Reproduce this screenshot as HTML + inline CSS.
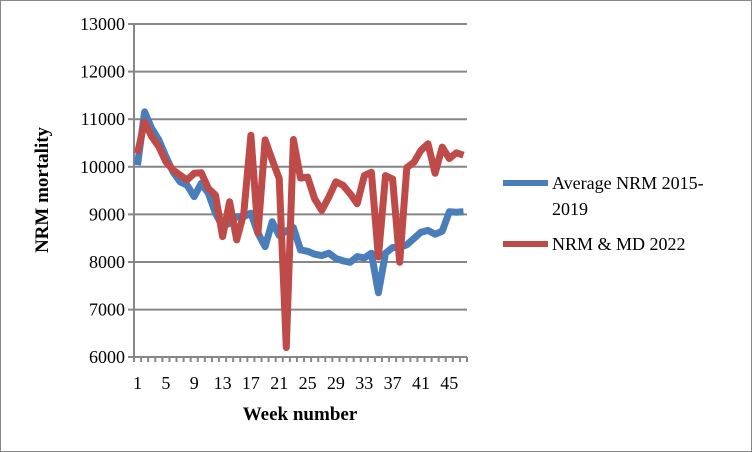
<!DOCTYPE html>
<html><head><meta charset="utf-8"><style>
html,body{margin:0;padding:0;background:#fff}
svg{display:block}
text{font-family:"Liberation Serif",serif;fill:#000}
</style></head><body>
<svg id="s" width="752" height="452" xmlns="http://www.w3.org/2000/svg">
<rect x="0.5" y="0.5" width="751" height="451" fill="#fff" stroke="#888"/>
<g stroke="#868686" stroke-width="2">
<line x1="134" y1="24" x2="467" y2="24"/>
<line x1="134" y1="71.6" x2="467" y2="71.6"/>
<line x1="134" y1="119.2" x2="467" y2="119.2"/>
<line x1="134" y1="166.8" x2="467" y2="166.8"/>
<line x1="134" y1="214.4" x2="467" y2="214.4"/>
<line x1="134" y1="262" x2="467" y2="262"/>
<line x1="134" y1="309.6" x2="467" y2="309.6"/>
<line x1="134" y1="357" x2="467" y2="357"/>
<line x1="134" y1="24" x2="134" y2="362"/>
<line x1="128" y1="24" x2="134" y2="24"/><line x1="128" y1="71.6" x2="134" y2="71.6"/><line x1="128" y1="119.2" x2="134" y2="119.2"/><line x1="128" y1="166.8" x2="134" y2="166.8"/><line x1="128" y1="214.4" x2="134" y2="214.4"/><line x1="128" y1="262" x2="134" y2="262"/><line x1="128" y1="309.6" x2="134" y2="309.6"/><line x1="128" y1="357" x2="134" y2="357"/>
</g>
<g id="ticks" stroke="#868686" stroke-width="2"></g>
<g font-size="18" text-anchor="end">
<text x="125" y="30">13000</text><text x="125" y="77.6">12000</text><text x="125" y="125.2">11000</text><text x="125" y="172.8">10000</text><text x="125" y="220.4">9000</text><text x="125" y="268">8000</text><text x="125" y="315.6">7000</text><text x="125" y="363">6000</text>
</g>
<g id="xl" font-size="18" text-anchor="middle"></g>
<polyline id="b" fill="none" stroke="#4a7ebb" stroke-width="7" stroke-linejoin="round"/>
<polyline id="r" fill="none" stroke="#be4b48" stroke-width="7" stroke-linejoin="round"/>
<text x="300" y="420" font-size="19" font-weight="bold" text-anchor="middle">Week number</text>
<text transform="translate(48,190) rotate(-90)" font-size="19" font-weight="bold" text-anchor="middle">NRM mortality</text>
<line x1="503" y1="183" x2="548" y2="183" stroke="#4a7ebb" stroke-width="6"/>
<text x="552" y="189" font-size="18">Average NRM 2015-</text>
<text x="552" y="215" font-size="18">2019</text>
<line x1="503" y1="244" x2="548" y2="244" stroke="#be4b48" stroke-width="6"/>
<text x="552" y="250" font-size="18">NRM &amp; MD 2022</text>
</svg>
<script>
var B=[10030,11150,10800,10560,10210,9890,9680,9610,9370,9650,9440,9020,8740,8810,8950,8950,9020,8600,8320,8840,8550,8650,8720,8250,8220,8160,8130,8180,8070,8020,7990,8110,8080,8180,7350,8180,8300,8300,8360,8490,8620,8660,8580,8640,9050,9040,9050];
var R=[10280,10940,10630,10420,10100,9930,9820,9720,9860,9870,9540,9400,8530,9260,8460,9020,10660,8600,10560,10140,9750,6200,10570,9760,9780,9320,9080,9360,9680,9610,9430,9220,9810,9880,8100,9810,9740,7990,9980,10090,10340,10480,9860,10410,10170,10290,10240];
var sp=333/47;
function X(i){return 134+sp*(i+0.5);}
function Y(v){return 357-(v-6000)*0.0476;}
function pts(a){return a.map(function(v,i){return X(i).toFixed(1)+','+Y(v).toFixed(1)}).join(' ');}
document.getElementById('b').setAttribute('points',pts(B));
document.getElementById('r').setAttribute('points',pts(R));
var ns='http://www.w3.org/2000/svg',t=document.getElementById('ticks'),xl=document.getElementById('xl');
for(var i=0;i<=47;i++){var l=document.createElementNS(ns,'line');var x=134+sp*i;l.setAttribute('x1',x);l.setAttribute('x2',x);l.setAttribute('y1',357);l.setAttribute('y2',362);t.appendChild(l);}
for(var w=1;w<=45;w+=4){var e=document.createElementNS(ns,'text');e.setAttribute('x',X(w-1));e.setAttribute('y',389);e.textContent=w;xl.appendChild(e);}
</script>
</body></html>
